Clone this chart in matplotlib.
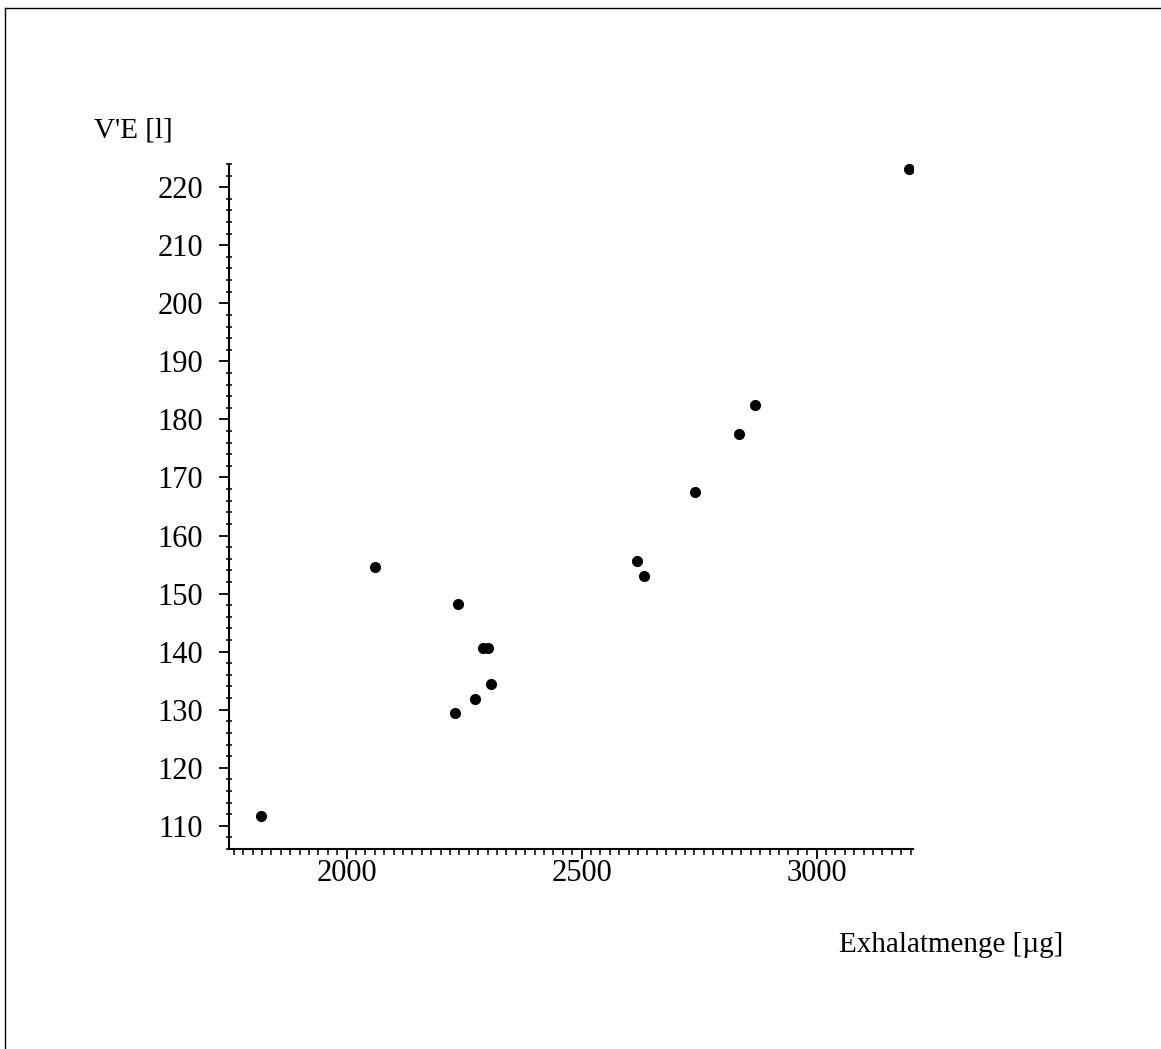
import matplotlib
matplotlib.use("Agg")
import matplotlib.pyplot as plt
from matplotlib.lines import Line2D
from matplotlib.ticker import MultipleLocator

# Exhalatmenge [µg] vs V'E [l]
exhalat = [1818, 2060, 2237, 2290, 2300, 2308, 2274, 2231,
           2617, 2633, 2741, 2834, 2868, 3196]
ve = [111.7, 154.6, 148.2, 140.6, 140.6, 134.4, 131.9, 129.5,
      155.6, 153.1, 167.5, 177.5, 182.5, 223.2]

x_major = [2000, 2500, 3000]
y_major = [110, 120, 130, 140, 150, 160, 170, 180, 190, 200, 210, 220]

plt.rcParams['font.family'] = ['Liberation Serif', 'DejaVu Serif']

W, H = 1161, 1049
fig = plt.figure(figsize=(W / 100, H / 100), dpi=100)
ax = fig.add_axes([229 / W, 1 - 849 / H, (913 - 229) / W, (849 - 164) / H])

ax.plot(exhalat, ve, 'o', color='black', ms=7, mec='black')

ax.set_xlim(1750, 3205)
ax.set_ylim(106, 224)
ax.set_xticks(x_major)
ax.set_yticks(y_major)
ax.xaxis.set_minor_locator(MultipleLocator(20))
ax.yaxis.set_minor_locator(MultipleLocator(2))

for s in ['top', 'right']:
    ax.spines[s].set_visible(False)
for s in ['left', 'bottom']:
    ax.spines[s].set_linewidth(1.5)

ax.tick_params(axis='both', which='major', direction='out', length=7.5,
               width=1.3, labelsize=22, colors='black')
ax.tick_params(axis='x', which='major', pad=0)
ax.tick_params(axis='y', which='major', pad=11)
ax.tick_params(axis='x', which='minor', direction='out', length=4, width=1.1)
ax.tick_params(axis='y', which='minor', direction='inout', length=5, width=1.1)

fig.text(94 / W, 1 - 130 / H, "V'E [l]", fontsize=21, ha='left', va='center')
fig.text(1063 / W, 1 - 945 / H, "Exhalatmenge [µg]", fontsize=21,
         ha='right', va='center')

# frame lines at top and left
fig.add_artist(Line2D([5 / W, 1], [1 - 8 / H, 1 - 8 / H], color='black', lw=1))
fig.add_artist(Line2D([5 / W, 5 / W], [0, 1 - 8 / H], color='black', lw=1))

fig.savefig('out.png', dpi=100)
